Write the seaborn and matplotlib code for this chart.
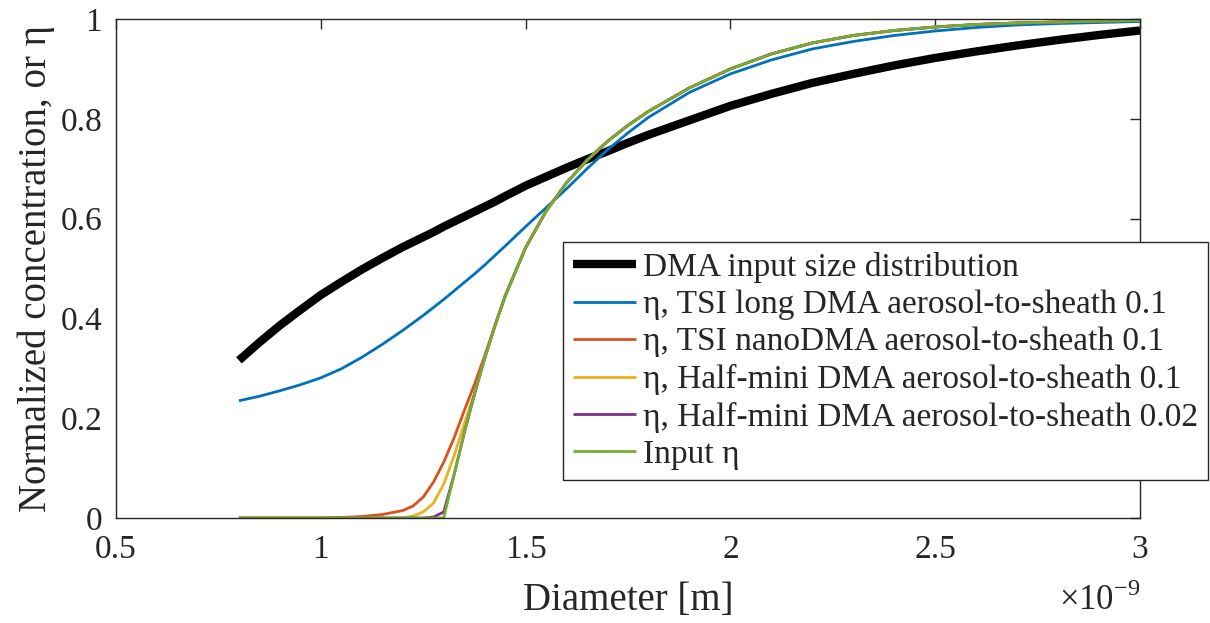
import numpy as np
import pandas as pd
import seaborn as sns
import matplotlib.pyplot as plt
from matplotlib.ticker import FuncFormatter, MultipleLocator

# diameter grid, in nm (plotted in m)
diam_nm = [0.80, 0.85, 0.90, 0.95, 1.00, 1.05, 1.10, 1.15, 1.20, 1.225, 1.25, 1.275,
           1.30, 1.325, 1.35, 1.375, 1.40, 1.425, 1.45, 1.50, 1.55, 1.60, 1.65, 1.70,
           1.75, 1.80, 1.90, 2.00, 2.10, 2.20, 2.30, 2.40, 2.50, 2.60, 2.70, 2.80,
           2.90, 3.00]

dma_input = [0.316, 0.352, 0.386, 0.417, 0.447, 0.473, 0.498, 0.521, 0.543, 0.553, 0.563, 0.573,
             0.584, 0.594, 0.604, 0.614, 0.624, 0.634, 0.645, 0.666, 0.684, 0.702, 0.719, 0.735,
             0.752, 0.768, 0.797, 0.826, 0.850, 0.872, 0.890, 0.907, 0.922, 0.935, 0.947, 0.958,
             0.968, 0.977]
eta_tsi_long = [0.235, 0.244, 0.255, 0.267, 0.281, 0.299, 0.322, 0.348, 0.376, 0.391, 0.406, 0.422,
                0.438, 0.455, 0.472, 0.489, 0.507, 0.526, 0.545, 0.584, 0.622, 0.660, 0.700, 0.738,
                0.772, 0.803, 0.853, 0.890, 0.918, 0.940, 0.955, 0.967, 0.976, 0.983, 0.988, 0.991,
                0.993, 0.995]
eta_tsi_nano = [0.0, 0.0, 0.0, 0.0, 0.0, 0.001, 0.003, 0.007, 0.015, 0.024, 0.042, 0.072,
                0.112, 0.160, 0.215, 0.268, 0.325, 0.386, 0.445, 0.542, 0.615, 0.672, 0.717, 0.755,
                0.787, 0.815, 0.862, 0.900, 0.930, 0.952, 0.967, 0.977, 0.984, 0.989, 0.992, 0.994,
                0.996, 0.997]
eta_halfmini_01 = [0.0, 0.0, 0.0, 0.0, 0.0, 0.0, 0.0, 0.0, 0.0, 0.004, 0.012, 0.030,
                   0.068, 0.124, 0.188, 0.250, 0.320, 0.385, 0.445, 0.542, 0.615, 0.672, 0.717, 0.755,
                   0.787, 0.815, 0.862, 0.900, 0.930, 0.952, 0.967, 0.977, 0.984, 0.989, 0.992, 0.994,
                   0.996, 0.997]
eta_halfmini_002 = [0.0, 0.0, 0.0, 0.0, 0.0, 0.0, 0.0, 0.0, 0.0, 0.0, 0.0, 0.002,
                    0.012, 0.086, 0.170, 0.248, 0.320, 0.385, 0.445, 0.542, 0.615, 0.672, 0.717, 0.755,
                    0.787, 0.815, 0.862, 0.900, 0.930, 0.952, 0.967, 0.977, 0.984, 0.989, 0.992, 0.994,
                    0.996, 0.997]
eta_input = [0.0, 0.0, 0.0, 0.0, 0.0, 0.0, 0.0, 0.0, 0.0, 0.0, 0.0, 0.0,
             0.0, 0.086, 0.170, 0.248, 0.320, 0.385, 0.445, 0.542, 0.615, 0.672, 0.717, 0.755,
             0.787, 0.815, 0.862, 0.900, 0.930, 0.952, 0.967, 0.977, 0.984, 0.989, 0.992, 0.994,
             0.996, 0.997]

series_labels = ["DMA input size distribution",
                 "η, TSI long DMA aerosol-to-sheath 0.1",
                 "η, TSI nanoDMA aerosol-to-sheath 0.1",
                 "η, Half-mini DMA aerosol-to-sheath 0.1",
                 "η, Half-mini DMA aerosol-to-sheath 0.02",
                 "Input η"]
series_values = [dma_input, eta_tsi_long, eta_tsi_nano, eta_halfmini_01,
                 eta_halfmini_002, eta_input]
colors = ["#000000", "#0072BD", "#D95319", "#EDB120", "#7E2F8E", "#77AC30"]
widths = [6.0, 2.0, 2.0, 2.0, 2.0, 2.0]

df = pd.DataFrame({"diameter": np.array(diam_nm) * 1e-9})
for lab, vals in zip(series_labels, series_values):
    df[lab] = vals

sns.set_style("white")
plt.rcParams["font.family"] = ["Liberation Serif", "DejaVu Serif"]
plt.rcParams["mathtext.fontset"] = "custom"
plt.rcParams["mathtext.rm"] = "Liberation Serif"
plt.rcParams["text.color"] = "#262626"

fig = plt.figure(figsize=(12.1, 6.23), dpi=100)
ax = fig.add_axes([0.0959, 0.1685, 0.8463, 0.801])

for lab, col, lw in zip(series_labels, colors, widths):
    sns.lineplot(data=df, x="diameter", y=lab, color=col, linewidth=lw,
                 label=lab, ax=ax, solid_capstyle="butt")

ax.set_xlim(0.5e-9, 3e-9)
ax.set_ylim(0, 1)
ax.xaxis.set_major_locator(MultipleLocator(0.5e-9))
ax.yaxis.set_major_locator(MultipleLocator(0.2))
ax.xaxis.set_major_formatter(FuncFormatter(lambda v, p: f"{v * 1e9:g}"))
ax.yaxis.set_major_formatter(FuncFormatter(lambda v, p: f"{v:g}"))
ax.tick_params(direction="in", length=7, width=1, top=True, right=True,
               labelsize=24, colors="#262626")
ax.tick_params(axis="x", pad=12)
ax.tick_params(axis="y", pad=10)
for sp in ax.spines.values():
    sp.set_color("#262626")
    sp.set_linewidth(1)

ax.set_xlabel("Diameter [m]", fontsize=28, color="#262626", labelpad=12)
ax.set_ylabel("Normalized concentration, or η", fontsize=28, color="#262626", labelpad=4)

ax.annotate("×10$^{-9}$", xy=(1, 0), xycoords="axes fraction",
            xytext=(0, -47), textcoords="offset points",
            ha="right", va="top", fontsize=25, color="#262626")

leg = ax.legend(loc="lower right", bbox_to_anchor=(1.066, 0.076), fontsize=24,
                frameon=True, fancybox=False, framealpha=1, edgecolor="#262626",
                handlelength=1.9, handletextpad=0.2, labelspacing=0.2,
                borderpad=0.3, borderaxespad=0)
leg.get_frame().set_linewidth(1)

fig.savefig("out.png", dpi=100)
